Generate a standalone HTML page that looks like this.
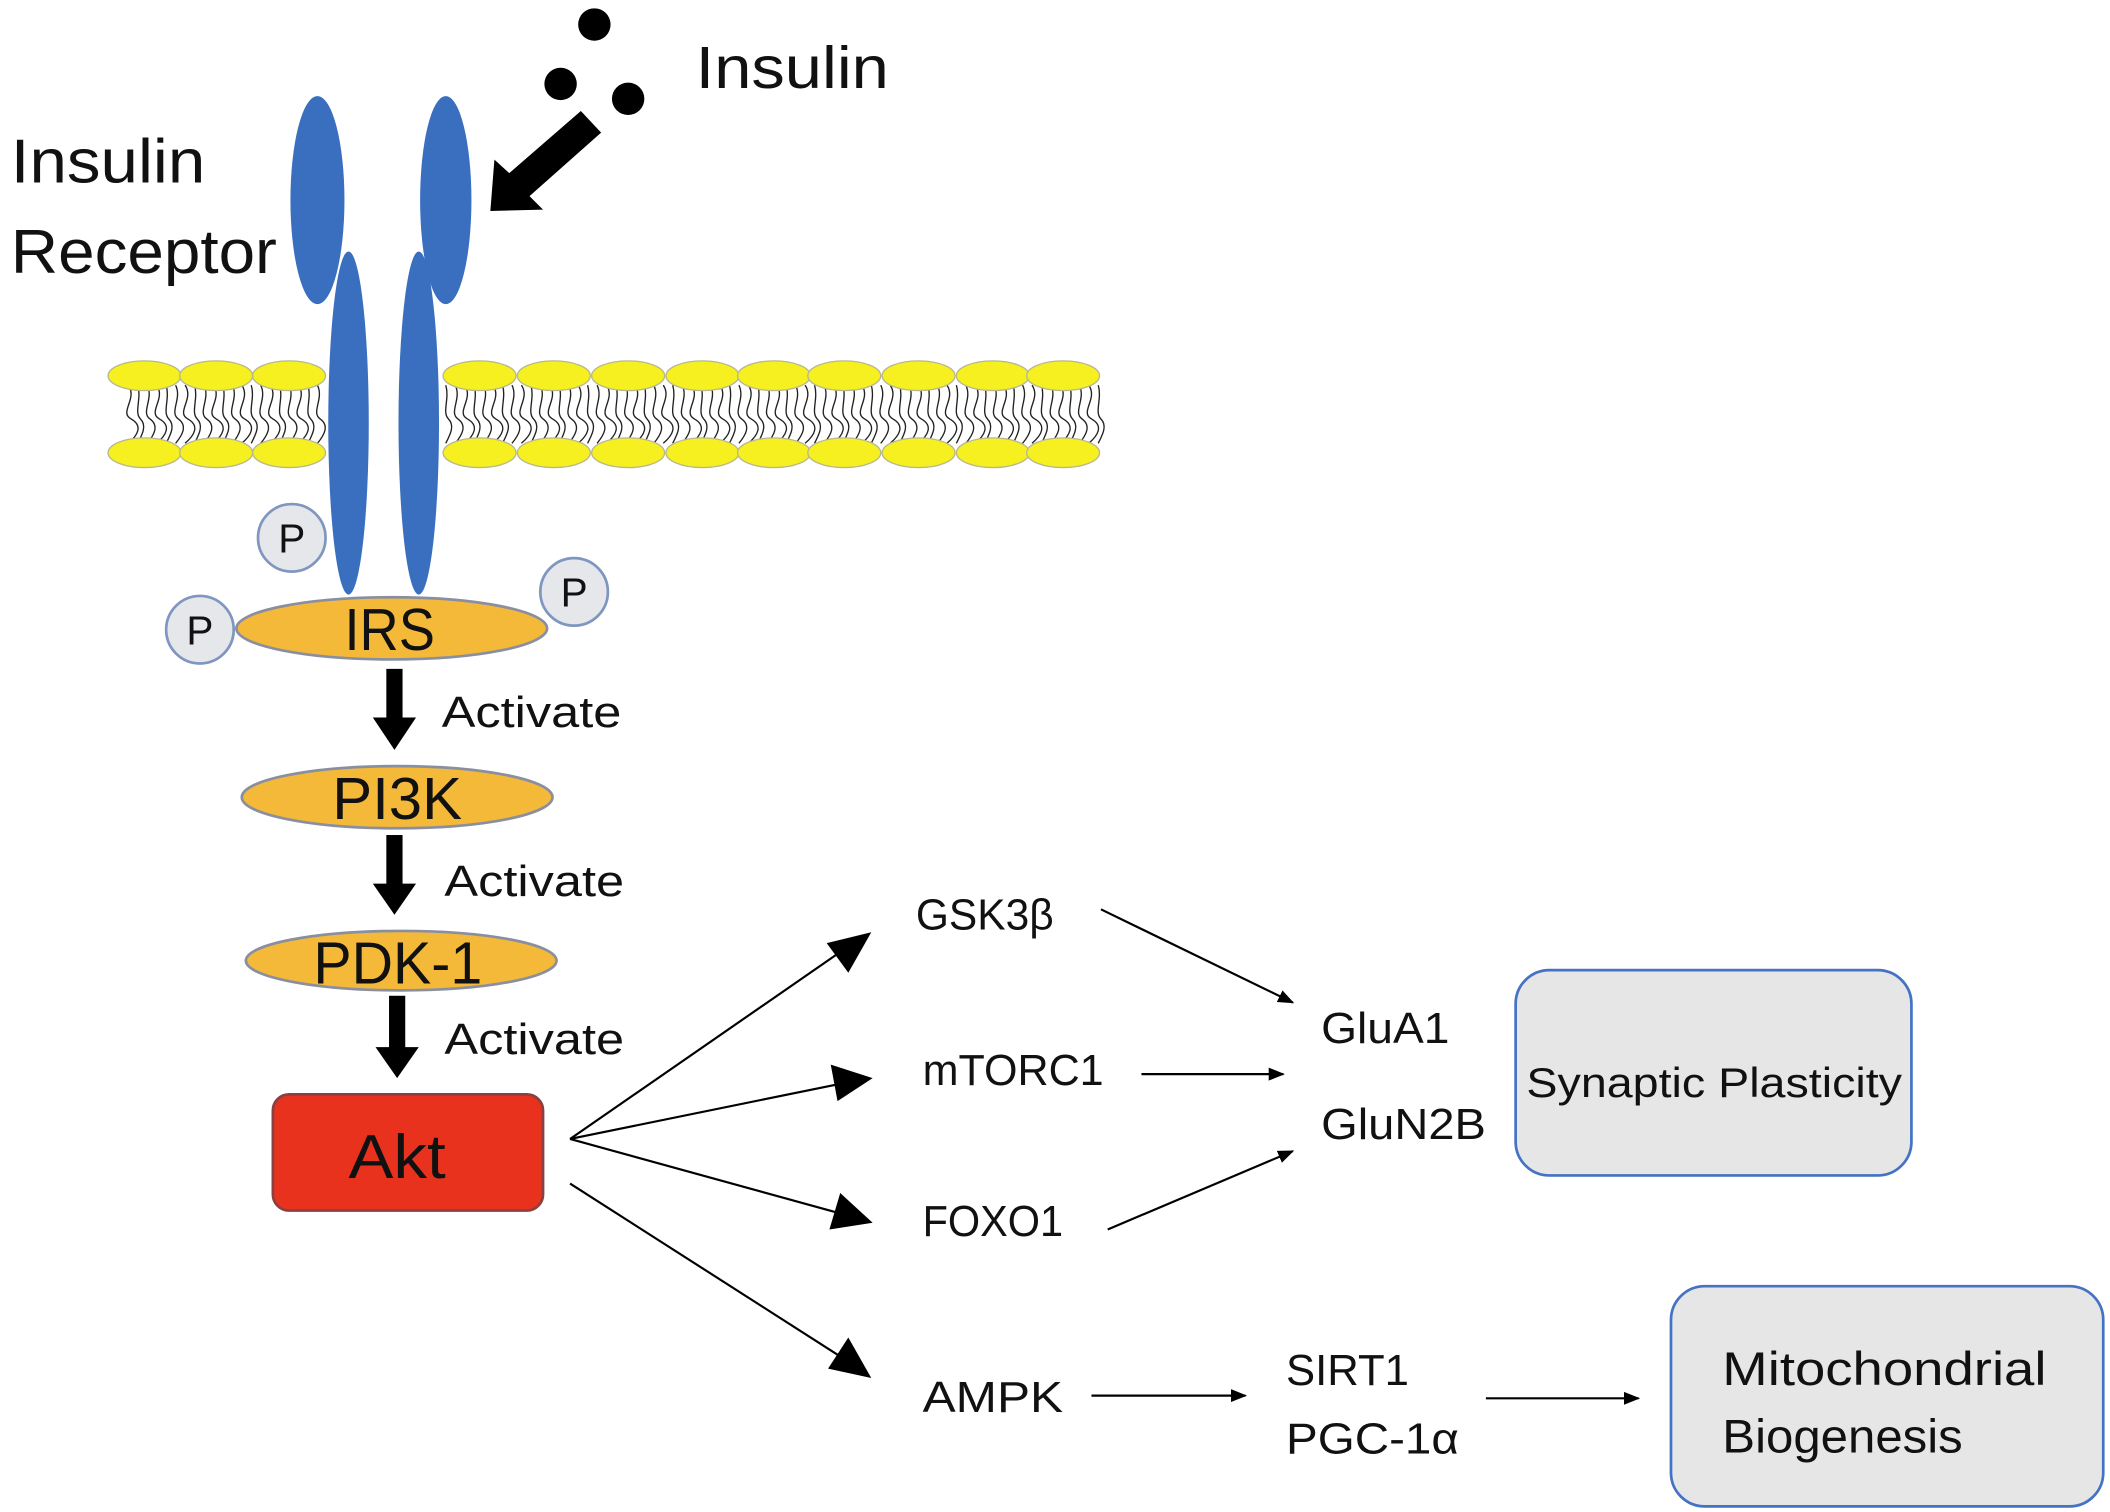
<!DOCTYPE html>
<html><head><meta charset="utf-8"><style>
html,body{margin:0;padding:0;background:#fff}
svg{display:block}
text{font-family:"Liberation Sans",sans-serif;fill:#111}
</style></head><body>
<svg id="s" width="2110" height="1512" viewBox="0 0 1562 1119" xmlns="http://www.w3.org/2000/svg">
<defs>
<marker id="big" markerWidth="10" markerHeight="10" refX="9" refY="5" orient="auto" markerUnits="userSpaceOnUse" viewBox="0 0 10 10"><path d="M0,0 L10,5 L0,10 z" fill="#000"/></marker>
<marker id="sm" viewBox="0 0 10 10" refX="9" refY="5" markerWidth="12" markerHeight="12" orient="auto" markerUnits="userSpaceOnUse"><path d="M0,1 L10,5 L0,9 z" fill="#000"/></marker>
</defs>
<g id="tails" stroke="#222" stroke-width="1" fill="none"></g>
<g id="heads" fill="#f6f020" stroke="#b8b890" stroke-width="1"></g>

<!-- receptor -->
<g fill="#3a6fc0">
<ellipse cx="235" cy="148" rx="20" ry="77"/>
<ellipse cx="330" cy="148" rx="19" ry="77"/>
<ellipse cx="258" cy="313" rx="15" ry="127"/>
<ellipse cx="310" cy="313" rx="15" ry="127"/>
</g>

<!-- insulin -->
<circle cx="440" cy="18" r="12" fill="#000"/>
<circle cx="415" cy="62" r="12" fill="#000"/>
<circle cx="465" cy="73" r="12" fill="#000"/>
<polygon points="430,82 445,98 392,145 402,155 363,156 366,118 377,128" fill="#000"/>
<text x="515" y="65" font-size="44" textLength="143" lengthAdjust="spacingAndGlyphs">Insulin</text>
<text x="8" y="135" font-size="46" textLength="144" lengthAdjust="spacingAndGlyphs">Insulin</text>
<text x="8" y="202" font-size="46" textLength="197" lengthAdjust="spacingAndGlyphs">Receptor</text>

<!-- P circles -->
<g fill="#e6e7eb" stroke="#7f96c0" stroke-width="2">
<circle cx="216" cy="398" r="25"/>
<circle cx="425" cy="438" r="25"/>
<circle cx="148" cy="466" r="25"/>
</g>
<g font-size="30" text-anchor="middle">
<text x="216" y="409">P</text><text x="425" y="449">P</text><text x="148" y="477">P</text>
</g>

<!-- cascade -->
<g fill="#f5b93a" stroke="#8a8f9f" stroke-width="2">
<ellipse cx="290" cy="465" rx="115" ry="23"/>
<ellipse cx="294" cy="590" rx="115" ry="23"/>
<ellipse cx="297" cy="711" rx="115" ry="22"/>
</g>
<text x="255" y="481" font-size="44" textLength="67" lengthAdjust="spacingAndGlyphs">IRS</text>
<text x="246" y="606" font-size="44" textLength="96" lengthAdjust="spacingAndGlyphs">PI3K</text>
<text x="232" y="728" font-size="44" textLength="125" lengthAdjust="spacingAndGlyphs">PDK-1</text>

<g fill="#000">
<rect x="286" y="495" width="12" height="38"/><polygon points="276,531 308,531 292,555"/>
<rect x="286" y="618" width="12" height="38"/><polygon points="276,654 308,654 292,677"/>
<rect x="288" y="737" width="12" height="40"/><polygon points="278,775 310,775 294,798"/>
</g>
<g font-size="32">
<text x="327" y="538" textLength="133" lengthAdjust="spacingAndGlyphs">Activate</text>
<text x="329" y="663" textLength="133" lengthAdjust="spacingAndGlyphs">Activate</text>
<text x="329" y="780" textLength="133" lengthAdjust="spacingAndGlyphs">Activate</text>
</g>

<rect x="202" y="810" width="200" height="86" rx="12" fill="#e8321e" stroke="#8a4040" stroke-width="2"/>
<text x="258" y="872" font-size="46" textLength="72" lengthAdjust="spacingAndGlyphs">Akt</text>

<!-- Akt branches -->
<g stroke="#000" stroke-width="1.6">
<line x1="422" y1="843" x2="620" y2="706"/>
<line x1="422" y1="843" x2="618" y2="803"/>
<line x1="422" y1="843" x2="618" y2="897"/>
<line x1="422" y1="876" x2="622" y2="1004"/>
</g>
<g fill="#000">
<polygon points="645,690 628,720 612,698"/>
<polygon points="646,798 620,815 615,788"/>
<polygon points="646,905 614,910 622,883"/>
<polygon points="645,1020 613,1013 628,990"/>
</g>

<g font-size="32">
<text x="678" y="688" textLength="102" lengthAdjust="spacingAndGlyphs">GSK3β</text>
<text x="683" y="803" textLength="134" lengthAdjust="spacingAndGlyphs">mTORC1</text>
<text x="683" y="915" textLength="104" lengthAdjust="spacingAndGlyphs">FOXO1</text>
<text x="683" y="1045" textLength="104" lengthAdjust="spacingAndGlyphs">AMPK</text>
<text x="978" y="772" textLength="95" lengthAdjust="spacingAndGlyphs">GluA1</text>
<text x="978" y="843" textLength="122" lengthAdjust="spacingAndGlyphs">GluN2B</text>
<text x="952" y="1025" textLength="91" lengthAdjust="spacingAndGlyphs">SIRT1</text>
<text x="952" y="1076" textLength="128" lengthAdjust="spacingAndGlyphs">PGC-1α</text>
</g>

<g stroke="#000" stroke-width="1.6" marker-end="url(#sm)">
<line x1="815" y1="673" x2="957" y2="742"/>
<line x1="845" y1="795" x2="950" y2="795"/>
<line x1="820" y1="910" x2="957" y2="852"/>
<line x1="808" y1="1033" x2="922" y2="1033"/>
<line x1="1100" y1="1035" x2="1213" y2="1035"/>
</g>

<rect x="1122" y="718" width="293" height="152" rx="25" fill="#e6e6e6" stroke="#4472c4" stroke-width="2"/>
<text x="1130" y="812" font-size="31" textLength="278" lengthAdjust="spacingAndGlyphs">Synaptic Plasticity</text>
<rect x="1237" y="952" width="320" height="163" rx="25" fill="#e6e6e6" stroke="#4472c4" stroke-width="2"/>
<text x="1275" y="1025" font-size="35" textLength="240" lengthAdjust="spacingAndGlyphs">Mitochondrial</text>
<text x="1275" y="1075" font-size="35" textLength="178" lengthAdjust="spacingAndGlyphs">Biogenesis</text>
</svg>
<script>
var ns="http://www.w3.org/2000/svg";
var heads=document.getElementById("heads"),tails=document.getElementById("tails");
var xs=[107,160,214,355,410,465,520,573,625,680,735,787];
xs.forEach(function(x){
 [278,335].forEach(function(y){
  var e=document.createElementNS(ns,"ellipse");
  e.setAttribute("cx",x);e.setAttribute("cy",y);e.setAttribute("rx",27);e.setAttribute("ry",11);
  heads.appendChild(e);
 });
});
function seg(a,b){
 for(var x=a;x<=b;x+=7){
  var p=document.createElementNS(ns,"path");
  var w=(x%3)*2+3;
  p.setAttribute("d","M"+x+",285 C"+(x+w)+",295 "+(x-w)+",305 "+(x+2)+",310 S"+(x+w)+",322 "+x+",328");
  tails.appendChild(p);
 }
}
seg(95,238);seg(330,815);
</script>
</body></html>
